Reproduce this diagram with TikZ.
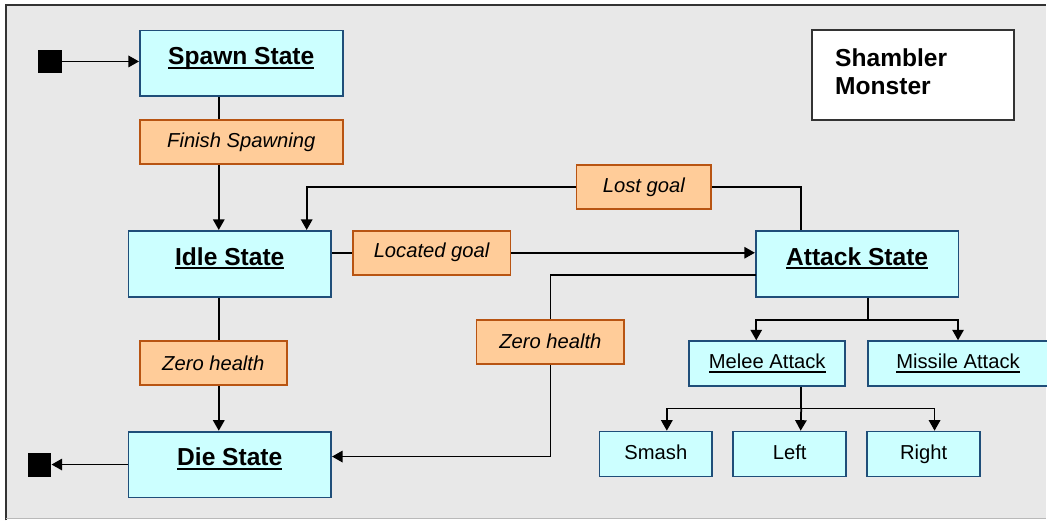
\documentclass[tikz,border=0pt]{standalone}
\usepackage{fontspec}
\setmainfont{Liberation Sans}
\usetikzlibrary{arrows.meta, positioning}

\definecolor{stfill}{HTML}{CCFFFF}
\definecolor{stline}{HTML}{1F4E79}
\definecolor{evfill}{HTML}{FFCC99}
\definecolor{evline}{HTML}{B85412}
\definecolor{bgcol}{HTML}{E8E8E8}
\definecolor{frame}{HTML}{333333}

% underline that sits close to the baseline
\newcommand{\stul}[1]{\setbox0=\hbox{#1}\rlap{\rule[-2.2pt]{\wd0}{0.9pt}}\box0}

\begin{document}
\begin{tikzpicture}[
  x=0.02cm, y=-0.02cm,
  st/.style={rectangle, draw=stline, fill=stfill, line width=1pt, minimum width=4.06cm,
    text height=19.5pt, text depth=18pt, inner ysep=0pt, font=\fontsize{14}{16}\selectfont\bfseries},
  ev/.style={rectangle, draw=evline, fill=evfill, line width=1pt, minimum height=0.88cm,
    inner sep=1pt, font=\fontsize{11.5}{13}\selectfont\itshape},
  sub/.style={rectangle, draw=stline, fill=stfill, line width=1pt, minimum height=0.9cm,
    text height=9pt, text depth=3pt, inner sep=1pt, font=\fontsize{11.5}{13}\selectfont},
  pin/.style={rectangle, fill=black, minimum size=0.47cm, inner sep=0pt},
  arr/.style={-{Triangle[length=6pt,width=6.5pt]}, line width=1pt},
  ln/.style={line width=1pt}
]
% frame
\fill[white] (0,0) rectangle (1047,521);
\fill[bgcol] (6,5) rectangle (1047,519);
\draw[frame, line width=1.2pt] (6,521) -- (6,5) -- (1047,5);
\draw[gray!55, line width=1pt] (6,519) -- (1047,519);
\useasboundingbox (0,0) rectangle (1047,521);

% states
\node[st] (spawn) at (241.5,63.5) {\stul{Spawn State}};
\node[st] (idle) at (230,264) {\stul{Idle State}};
\node[st] (attack) at (858,264) {\stul{Attack State}};
\node[st] (die) at (230,465) {\stul{Die State}};

% events
\node[ev, minimum width=4.06cm] (finish) at (241.5,142) {Finish Spawning};
\node[ev, minimum width=3.16cm] (located) at (432,253) {Located goal};
\node[ev, minimum width=2.7cm] (lost) at (644.5,187) {Lost goal};
\node[ev, minimum width=2.96cm] (zeroa) at (551,342) {Zero health};
\node[ev, minimum width=2.94cm] (zerob) at (213.5,363.5) {Zero health};

% attack kinds
\node[sub, minimum width=3.12cm] (melee) at (768,364) {\stul{Melee Attack}};
\node[sub, minimum width=3.62cm] (missile) at (959,364) {\stul{Missile Attack}};
\node[sub, minimum width=2.26cm] (smash) at (656.5,454.5) {Smash};
\node[sub, minimum width=2.26cm] (left) at (790.5,454.5) {Left};
\node[sub, minimum width=2.26cm] (right) at (924.5,454.5) {Right};

% title
\node[rectangle, draw=frame, fill=white, line width=1.2pt, minimum height=1.8cm,
  text width=3.12cm, inner xsep=0.46cm, align=left,
  font=\fontsize{14}{16}\selectfont\bfseries] (title) at (914,75)
  {\raisebox{6pt}{\begin{tabular}{@{}l@{}}Shambler\\Monster\end{tabular}}};

% start and end
\node[pin] (start) at (50,61.5) {};
\node[pin] (stop) at (39.5,465.5) {};

% bend points
\coordinate (spine) at (219,0);
\coordinate (lostup) at (802,187);
\coordinate (idlein) at (307,0);
\coordinate (zrow) at (757,275);
\coordinate (diein) at (0,457);
\coordinate (fork) at (869,320);
\coordinate (meleein) at (757,0);
\coordinate (split) at (802,409);

\draw[arr] (start) -- (start -| spawn.west);
\draw[ln] (spawn.south -| spine) -- (finish.north -| spine);
\draw[arr] (finish.south -| spine) -- (idle.north -| spine);
\draw[ln] (located.west -| idle.east) -- (located.west);
\draw[arr] (located.east) -- (located.east -| attack.west);
\draw[ln] (attack.north -| lostup) |- (lost.east);
\draw[arr] (lost.west) -| (idle.north -| idlein);
\draw[ln] (zrow) -| (zeroa.north);
\draw[arr] (zeroa.south) |- (die.east |- diein);
\draw[ln] (idle.south -| spine) -- (zerob.north -| spine);
\draw[arr] (zerob.south -| spine) -- (die.north -| spine);
\draw[arr] (die.west) -- (die.west -| stop.east);
\draw[ln] (attack.south -| fork) -- (fork);
\draw[arr] (fork) -| (melee.north -| meleein);
\draw[arr] (fork) -| (missile.north);
\draw[ln] (melee.south -| split) -- (split);
\draw[arr] (split) -| ([xshift=0.22cm]smash.north);
\draw[arr] (split) -- ([xshift=0.22cm]left.north);
\draw[arr] (split) -| ([xshift=0.22cm]right.north);
\end{tikzpicture}
\end{document}
